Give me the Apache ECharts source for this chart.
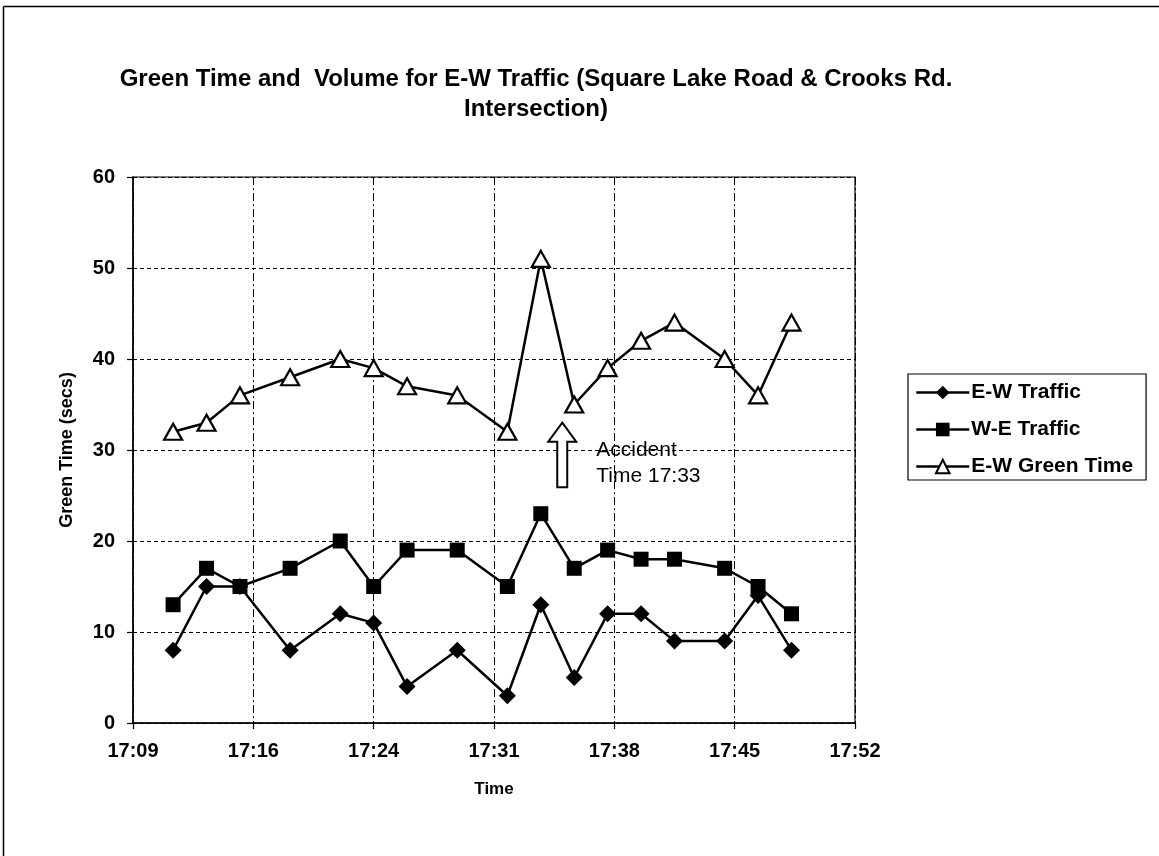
<!DOCTYPE html>
<html>
<head>
<meta charset="utf-8">
<script src="https://cdn.jsdelivr.net/npm/echarts@6/dist/echarts.min.js"></script>
<style>
  html, body { margin: 0; padding: 0; background: #fff; }
  #chart { width: 1159px; height: 856px; }
</style>
</head>
<body>
<div id="chart"></div>
<script>
// ---- data ----
const times = ["17:12","17:14","17:16","17:19","17:22","17:24","17:26","17:29","17:32","17:34","17:36","17:38","17:40","17:42","17:45","17:47","17:49"];
const ewTraffic = [8, 15, 15, 8, 12, 11, 4, 8, 3, 13, 5, 12, 12, 9, 9, 14, 8];
const weTraffic = [13, 17, 15, 17, 20, 15, 19, 19, 15, 23, 17, 19, 18, 18, 17, 15, 12];
const ewGreen = [32, 33, 36, 38, 40, 39, 37, 36, 32, 51, 35, 39, 42, 44, 40, 36, 44];
const seriesNames = ["E-W Traffic", "W-E Traffic", "E-W Green Time"];
// x axis (minutes of day): Excel-style 7.2 minute steps from 17:09:36
const xMin = 1029.6, xMax = 1072.8, xStep = 7.2;
const yMin = 0, yMax = 60, yStep = 10;
const titleLines = ["Green Time and  Volume for E-W Traffic (Square Lake Road & Crooks Rd.", "Intersection)"];
// annotation: arrow time and value extent
const arrowTime = "17:35:17";
const arrowTop = 33.0, arrowBottom = 25.9, annotTextTop = 31.4;
const annotText = "Accident\nTime 17:33";

function toMin(t) {
  const p = t.split(":").map(Number);
  return p[0] * 60 + p[1] + (p[2] || 0) / 60;
}
function fmt(v) {
  const m = Math.floor(v + 1e-6);
  const h = Math.floor(m / 60), mm = m % 60;
  return h + ":" + (mm < 10 ? "0" : "") + mm;
}
const pairs = arr => arr.map((v, i) => [toMin(times[i]), v]);

const FONT = "Liberation Sans";
const chart = echarts.init(document.getElementById("chart"), null, { renderer: "canvas" });

const option = {
  animation: false,
  backgroundColor: "#fff",
  textStyle: { fontFamily: FONT, color: "#000" },
  grid: { left: 133, right: 304, top: 177, bottom: 133, show: true, borderColor: "#000", borderWidth: 1.2, backgroundColor: "transparent" },
  xAxis: {
    type: "value", min: xMin, max: xMax, interval: xStep,
    name: "Time", nameLocation: "middle", nameGap: 58,
    nameTextStyle: { fontFamily: FONT, fontWeight: "bold", fontSize: 17, color: "#000" },
    axisLine: { lineStyle: { color: "#000", width: 1.5 } },
    axisTick: { show: true, length: 6, lineStyle: { color: "#000", width: 1.2 } },
    axisLabel: { formatter: fmt, margin: 18, fontFamily: FONT, fontWeight: "bold", fontSize: 20, color: "#000" },
    splitLine: { show: true, lineStyle: { color: "#000", width: 1, type: [8, 3, 2, 3] } }
  },
  yAxis: {
    type: "value", min: yMin, max: yMax, interval: yStep,
    name: "Green Time (secs)", nameLocation: "middle", nameGap: 57, nameRotate: 90,
    nameTextStyle: { fontFamily: FONT, fontWeight: "bold", fontSize: 18, color: "#000" },
    axisLine: { show: true, lineStyle: { color: "#000", width: 1.5 } },
    axisTick: { show: true, length: 6, lineStyle: { color: "#000", width: 1.2 } },
    axisLabel: { margin: 18, fontFamily: FONT, fontWeight: "bold", fontSize: 20, color: "#000" },
    splitLine: { show: true, lineStyle: { color: "#000", width: 1, type: [4, 3] } }
  },
  legend: {
    orient: "vertical", left: 908, top: 374,
    data: seriesNames,
    itemWidth: 53, itemHeight: 17, itemGap: 14,
    padding: [7, 13, 2, 7],
    borderColor: "#000", borderWidth: 1.2,
    lineStyle: { width: 2.5 },
    textStyle: { fontFamily: FONT, fontWeight: "bold", fontSize: 21, color: "#000", lineHeight: 23, padding: [0, 0, 0, -3] },
    selectedMode: false
  },
  series: [
    {
      name: seriesNames[0], type: "line", data: pairs(ewTraffic),
      symbol: "diamond", symbolSize: [17, 17],
      itemStyle: { color: "#000" }, lineStyle: { color: "#000", width: 2.5 },
      emphasis: { disabled: true }, z: 3
    },
    {
      name: seriesNames[1], type: "line", data: pairs(weTraffic),
      symbol: "rect", symbolSize: [15, 15],
      itemStyle: { color: "#000" }, lineStyle: { color: "#000", width: 2.5 },
      emphasis: { disabled: true }, z: 3
    },
    {
      name: seriesNames[2], type: "line", data: pairs(ewGreen),
      symbol: "triangle", symbolSize: [18, 16],
      itemStyle: { color: "#fff", borderColor: "#000", borderWidth: 2.2 }, lineStyle: { color: "#000", width: 2.5 },
      emphasis: { disabled: true }, z: 4
    }
  ]
};
chart.setOption(option);

// annotation & frame placed from data coordinates
const ax = toMin(arrowTime);
const tip = chart.convertToPixel({ gridIndex: 0 }, [ax, arrowTop]);
const base = chart.convertToPixel({ gridIndex: 0 }, [ax, arrowBottom]);
const txt = chart.convertToPixel({ gridIndex: 0 }, [ax, annotTextTop]);
const cx = tip[0], ty = tip[1], by = base[1];
const headH = 19, headW = 14, shaftW = 5;

chart.setOption({
  graphic: [
    { type: "line", shape: { x1: 3.5, y1: 6.5, x2: 1159, y2: 6.5 }, style: { stroke: "#000", lineWidth: 1.5 } },
    { type: "line", shape: { x1: 3.5, y1: 6.5, x2: 3.5, y2: 856 }, style: { stroke: "#000", lineWidth: 1.5 } },
    { type: "text", x: 536, y: 67, style: { text: titleLines[0], font: "bold 24px '" + FONT + "'", fill: "#000", align: "center", verticalAlign: "top" } },
    { type: "text", x: 536, y: 97, style: { text: titleLines[1], font: "bold 24px '" + FONT + "'", fill: "#000", align: "center", verticalAlign: "top" } },
    {
      type: "polygon", z: 10,
      shape: { points: [[cx, ty], [cx + headW, ty + headH], [cx + shaftW, ty + headH], [cx + shaftW, by], [cx - shaftW, by], [cx - shaftW, ty + headH], [cx - headW, ty + headH]] },
      style: { fill: "#fff", stroke: "#000", lineWidth: 2 }
    },
    { type: "text", z: 10, x: cx + 34, y: txt[1], style: { text: annotText, font: "21px '" + FONT + "'", fill: "#000", lineHeight: 26, align: "left", verticalAlign: "top" } }
  ]
});
</script>
</body>
</html>
